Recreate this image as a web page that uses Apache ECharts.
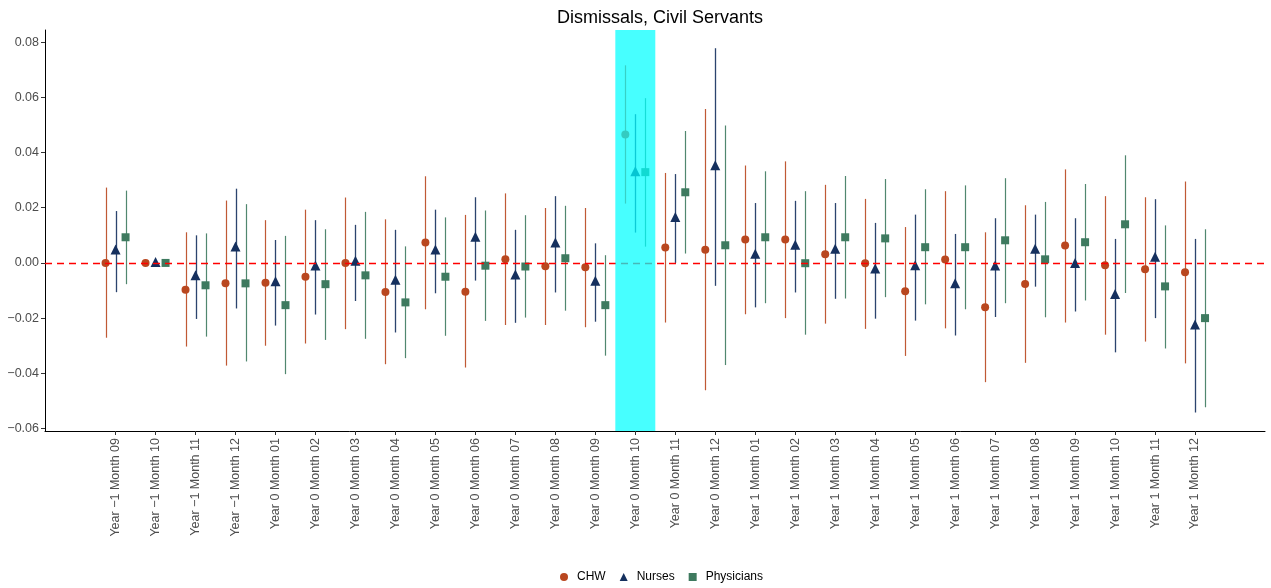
<!DOCTYPE html>
<html>
<head>
<meta charset="utf-8">
<script src="https://cdn.jsdelivr.net/npm/echarts@6/dist/echarts.min.js"></script>
<style>html,body{margin:0;padding:0;background:#fff}#c{width:1271px;height:588px}</style>
</head>
<body>
<div id="c"></div>
<script>
const categories = [
  "Year \u22121 Month 09","Year \u22121 Month 10","Year \u22121 Month 11","Year \u22121 Month 12",
  "Year 0 Month 01","Year 0 Month 02","Year 0 Month 03","Year 0 Month 04","Year 0 Month 05","Year 0 Month 06",
  "Year 0 Month 07","Year 0 Month 08","Year 0 Month 09","Year 0 Month 10","Year 0 Month 11","Year 0 Month 12",
  "Year 1 Month 01","Year 1 Month 02","Year 1 Month 03","Year 1 Month 04","Year 1 Month 05","Year 1 Month 06",
  "Year 1 Month 07","Year 1 Month 08","Year 1 Month 09","Year 1 Month 10","Year 1 Month 11","Year 1 Month 12"
];
const yTicks = [-0.06, -0.04, -0.02, 0, 0.02, 0.04, 0.06, 0.08];
const highlightCategory = "Year 0 Month 10";

const chwEst = [0.000, 0.000, -0.0097, -0.0074, -0.0072, -0.0050, 0.000, -0.0105, 0.0074, -0.0104, 0.0013, -0.0012, -0.0016, 0.0465, 0.0056, 0.0048, 0.0085, 0.0085, 0.0031, -0.0001, -0.0103, 0.0012, -0.0161, -0.0076, 0.0063, -0.0008, -0.0023, -0.0034];
const chwLo = [-0.0271, 0, -0.0303, -0.0372, -0.0300, -0.0292, -0.0240, -0.0367, -0.0168, -0.0379, -0.0225, -0.0225, -0.0233, 0.0215, -0.0216, -0.0461, -0.0186, -0.0200, -0.0220, -0.0239, -0.0337, -0.0237, -0.0432, -0.0362, -0.0216, -0.0260, -0.0285, -0.0364];
const chwHi = [0.0273, 0, 0.0111, 0.0226, 0.0155, 0.0193, 0.0237, 0.0158, 0.0314, 0.0174, 0.0252, 0.0199, 0.0199, 0.0716, 0.0326, 0.0558, 0.0353, 0.0368, 0.0283, 0.0232, 0.0130, 0.0260, 0.0111, 0.0209, 0.0339, 0.0242, 0.0238, 0.0295];

const nurEst = [0.0045, 0, -0.0048, 0.0056, -0.0070, -0.0013, 0.0004, -0.0065, 0.0045, 0.0091, -0.0046, 0.0070, -0.0068, 0.0329, 0.0163, 0.0350, 0.0030, 0.0062, 0.0048, -0.0024, -0.0012, -0.0077, -0.0013, 0.0048, -0.0004, -0.0116, 0.0019, -0.0227];
const nurLo = [-0.0106, 0, -0.0203, -0.0165, -0.0227, -0.0187, -0.0138, -0.0252, -0.0110, -0.0064, -0.0217, -0.0107, -0.0213, 0.0110, 0.0000, -0.0083, -0.0161, -0.0107, -0.0130, -0.0202, -0.0209, -0.0263, -0.0196, -0.0086, -0.0176, -0.0324, -0.0200, -0.0542];
const nurHi = [0.0188, 0, 0.0100, 0.0269, 0.0083, 0.0155, 0.0138, 0.0120, 0.0193, 0.0238, 0.0120, 0.0242, 0.0071, 0.0539, 0.0322, 0.0778, 0.0217, 0.0225, 0.0217, 0.0145, 0.0175, 0.0105, 0.0162, 0.0175, 0.0162, 0.0087, 0.0231, 0.0087];

const phyEst = [0.0093, 0, -0.0081, -0.0074, -0.0153, -0.0077, -0.0045, -0.0143, -0.0050, -0.0010, -0.0013, 0.0017, -0.0153, 0.0329, 0.0256, 0.0064, 0.0093, -0.0001, 0.0093, 0.0089, 0.0057, 0.0057, 0.0082, 0.0013, 0.0075, 0.0140, -0.0085, -0.0200];
const phyLo = [-0.0077, 0, -0.0267, -0.0357, -0.0403, -0.0279, -0.0275, -0.0345, -0.0264, -0.0210, -0.0198, -0.0173, -0.0336, 0.0059, 0.0034, -0.0370, -0.0146, -0.0260, -0.0129, -0.0124, -0.0150, -0.0168, -0.0146, -0.0197, -0.0136, -0.0109, -0.0310, -0.0523];
const phyHi = [0.0262, 0, 0.0107, 0.0213, 0.0098, 0.0122, 0.0185, 0.0060, 0.0165, 0.0190, 0.0173, 0.0207, 0.0028, 0.0597, 0.0478, 0.0498, 0.0332, 0.0260, 0.0315, 0.0304, 0.0267, 0.0281, 0.0307, 0.0221, 0.0286, 0.0390, 0.0136, 0.0122];

const groups = [
  { name: "CHW", est: chwEst, lo: chwLo, hi: chwHi, color: "#B9471F", symbol: "circle", size: 8, dx: -10, lw: 1.2 },
  { name: "Nurses", est: nurEst, lo: nurLo, hi: nurHi, color: "#15305E", symbol: "triangle", size: 10, dx: 0, lw: 1.3 },
  { name: "Physicians", est: phyEst, lo: phyLo, hi: phyHi, color: "#3E7A5F", symbol: "rect", size: 8, dx: 10, lw: 1.2 }
];

const FONT = "Liberation Sans, Arial, sans-serif";
const fmtY = v => (v < 0 ? "\u2212" : "") + Math.abs(v).toFixed(2);
const hIdx = categories.indexOf(highlightCategory);

const series = [];
groups.forEach(g => {
  series.push({
    name: g.name,
    type: "custom",
    z: 2,
    data: categories.map((c, i) => [i, g.lo[i], g.hi[i]]),
    renderItem: (params, api) => {
      const lo = api.value(1), hi = api.value(2);
      if (lo === hi) return null;
      const p1 = api.coord([api.value(0), lo]);
      const p2 = api.coord([api.value(0), hi]);
      const x = Math.round(p1[0] + g.dx) + 0.5;
      return {
        type: "line",
        shape: { x1: x, y1: p1[1], x2: x, y2: p2[1] },
        style: { stroke: g.color, lineWidth: g.lw, opacity: 0.9 }
      };
    },
    silent: true
  });
  series.push({
    name: g.name,
    type: "scatter",
    z: 3,
    symbol: g.symbol,
    symbolSize: g.size,
    symbolOffset: [g.dx, g.symbol === "triangle" ? -1 : 0],
    itemStyle: { color: g.color, opacity: 1 },
    data: categories.map((c, i) => [i, g.est[i]]),
    silent: true
  });
});

// zero reference line
series.push({
  type: "line",
  data: [],
  z: 4,
  silent: true,
  markLine: {
    silent: true,
    z: 4,
    symbol: "none",
    label: { show: false },
    lineStyle: { color: "#FF0000", type: [7, 5], width: 1.3, opacity: 1 },
    emphasis: { disabled: true },
    data: [{ yAxis: 0 }]
  }
});

// highlighted period overlay (drawn on top of the marks)
series.push({
  type: "line",
  data: [],
  z: 10,
  silent: true,
  markArea: {
    silent: true,
    z: 10,
    itemStyle: { color: "rgba(0,255,255,0.72)" },
    data: [[{ xAxis: hIdx - 0.5 }, { xAxis: hIdx + 0.5 }]]
  }
});

const option = {
  animation: false,
  backgroundColor: "#ffffff",
  textStyle: { fontFamily: FONT },
  title: {
    text: "Dismissals, Civil Servants",
    left: 655,
    top: 4,
    textAlign: "center",
    textStyle: { fontFamily: FONT, fontSize: 18, fontWeight: "normal", color: "#000" }
  },
  legend: {
    bottom: 0,
    left: 555,
    orient: "horizontal",
    itemWidth: 8,
    itemHeight: 8,
    itemGap: 14,
    textStyle: { fontFamily: FONT, fontSize: 12, color: "#000", padding: [0, 0, 0, 4] },
    data: groups.map(g => ({ name: g.name, icon: g.symbol, itemStyle: { color: g.color } })),
    selectedMode: false
  },
  grid: { left: 45, right: 6, top: 30, bottom: 157, containLabel: false },
  xAxis: {
    type: "value",
    min: -1.765,
    max: 28.75,
    splitLine: { show: false },
    axisLine: { show: true, onZero: false, lineStyle: { color: "#000", width: 1 } },
    axisTick: { show: true, customValues: categories.map((c, i) => i), length: 4, lineStyle: { color: "#333" } },
    axisLabel: {
      customValues: categories.map((c, i) => i),
      rotate: 90,
      margin: 7,
      fontFamily: FONT,
      fontSize: 12.5,
      color: "#4D4D4D",
      formatter: v => categories[Math.round(v)] || ""
    }
  },
  yAxis: {
    type: "value",
    min: -0.0609,
    max: 0.0844,
    splitLine: { show: false },
    axisLine: { show: true, onZero: false, lineStyle: { color: "#000", width: 1 } },
    axisTick: { show: true, customValues: yTicks, length: 4, lineStyle: { color: "#333" } },
    axisLabel: {
      customValues: yTicks,
      margin: 6,
      fontFamily: FONT,
      fontSize: 12.5,
      color: "#4D4D4D",
      formatter: fmtY
    }
  },
  series: series
};

const chart = echarts.init(document.getElementById("c"), null, { renderer: "canvas" });
chart.setOption(option);
</script>
</body>
</html>
